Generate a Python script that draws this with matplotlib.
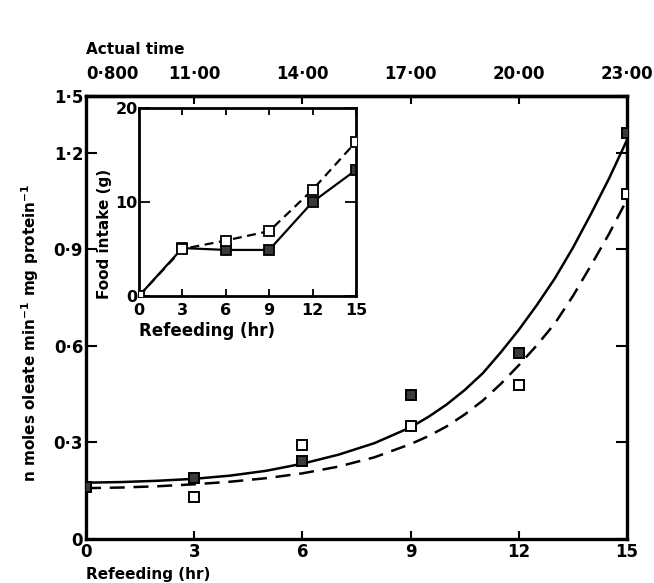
import matplotlib
matplotlib.use("Agg")
import matplotlib.pyplot as plt

plt.rcParams['font.family'] = ['DejaVu Sans']
plt.rcParams['font.weight'] = 'bold'

# ---- main plot data ----
refeed_hr = [0, 3, 6, 9, 12, 15]
filled_pts = [0.163, 0.189, 0.242, 0.447, 0.577, 1.262]
open_pts = [0.163, 0.130, 0.291, 0.352, 0.480, 1.073]

curve_hr = [0, 1, 2, 3, 4, 5, 6, 7, 8, 9, 9.5, 10, 10.5, 11, 11.5, 12, 12.5, 13, 13.5, 14, 14.5, 15]
solid_curve = [0.175, 0.177, 0.181, 0.187, 0.197, 0.212, 0.234, 0.262, 0.298, 0.347, 0.380,
               0.418, 0.463, 0.515, 0.580, 0.650, 0.727, 0.810, 0.905, 1.010, 1.120, 1.240]
dashed_curve = [0.158, 0.160, 0.164, 0.170, 0.178, 0.189, 0.204, 0.225, 0.254, 0.295, 0.320,
                0.350, 0.387, 0.430, 0.482, 0.540, 0.602, 0.670, 0.755, 0.850, 0.948, 1.055]

y_ticks = [0, 0.3, 0.6, 0.9, 1.2, 1.377]
y_tick_labels = ['0', '0·3', '0·6', '0·9', '1·2', '1·5']
x_ticks = [0, 3, 6, 9, 12, 15]
x_tick_labels = ['0', '3', '6', '9', '12', '15']
top_tick_labels = ['0·800', '11·00', '14·00', '17·00', '20·00', '23·00']

# ---- inset data ----
inset_hr = [0, 3, 6, 9, 12, 15]
intake_open = [0, 5.0, 5.9, 6.9, 11.3, 16.4]
intake_filled = [0, 5.1, 4.9, 4.9, 10.0, 13.4]
inset_y_ticks = [0, 10, 20]

fig = plt.figure(figsize=(6.54, 5.83), dpi=100)
ax = fig.add_axes([0.1315, 0.0755, 0.8272, 0.7599])

ax.plot(curve_hr, solid_curve, color='black', lw=1.8, zorder=2)
ax.plot(curve_hr, dashed_curve, color='black', lw=1.8, dashes=(6, 3.5), zorder=2)
ax.plot(refeed_hr, open_pts, ls='none', marker='s', ms=7.5, mfc='white', mec='black', mew=1.4, zorder=3)
ax.plot(refeed_hr, filled_pts, ls='none', marker='s', ms=7.5, mfc='#3a3a3a', mec='black', mew=1.4, zorder=4)

ax.set_xlim(0, 15)
ax.set_ylim(0, 1.377)
ax.set_xticks(x_ticks)
ax.set_xticklabels(x_tick_labels)
ax.set_yticks(y_ticks)
ax.set_yticklabels(y_tick_labels)
ax.tick_params(axis='both', direction='in', length=8, width=1.5, labelsize=12, pad=3)
ax.tick_params(axis='y', right=True, pad=2)
ax.tick_params(axis='x', length=6)
for s in ax.spines.values():
    s.set_linewidth(2.4)

top = ax.secondary_xaxis('top')
top.set_xticks(x_ticks)
top.set_xticklabels(top_tick_labels)
top.tick_params(direction='in', length=6, width=1.5, labelsize=12, pad=9)
top.get_xticklabels()[0].set_horizontalalignment('left')
top.spines['top'].set_linewidth(2.4)

fig.text(0.1315, 0.915, 'Actual time', fontsize=11, fontweight='bold', ha='left', va='center')
fig.text(0.1315, 0.014, 'Refeeding (hr)', fontsize=11, fontweight='bold', ha='left', va='center')
fig.text(0.046, 0.43, 'n moles oleate min$^{\\mathbf{-1}}$ mg protein$^{\\mathbf{-1}}$',
         fontsize=11, fontweight='bold', rotation=90, ha='center', va='center')

# ---- inset ----
ins = fig.add_axes([0.2125, 0.4923, 0.3318, 0.3225])
ins.plot(inset_hr, intake_open, color='black', lw=1.6, dashes=(4, 2.5), marker='s', ms=7.5,
         mfc='white', mec='black', mew=1.3, zorder=3)
ins.plot(inset_hr, intake_filled, color='black', lw=1.6, marker='s', ms=7.5,
         mfc='#3a3a3a', mec='black', mew=1.3, zorder=2)
ins.set_xlim(0, 15)
ins.set_ylim(0, 20)
ins.set_xticks(x_ticks)
ins.set_yticks(inset_y_ticks)
ins.tick_params(axis='both', direction='in', length=5, width=1.3, labelsize=11.5,
                top=True, right=True)
ins.tick_params(axis='x', pad=5)
ins.tick_params(axis='y', length=8, pad=1)
for s in ins.spines.values():
    s.set_linewidth(2.0)
ins.set_xlabel('Refeeding (hr)', fontsize=12, fontweight='bold')
ins.xaxis.set_label_coords(0.0, -0.14)
ins.xaxis.label.set_horizontalalignment('left')
ins.set_ylabel('Food intake (g)', fontsize=11, fontweight='bold')
ins.yaxis.set_label_coords(-0.125, 0.33)

fig.savefig('out.png', dpi=100)
